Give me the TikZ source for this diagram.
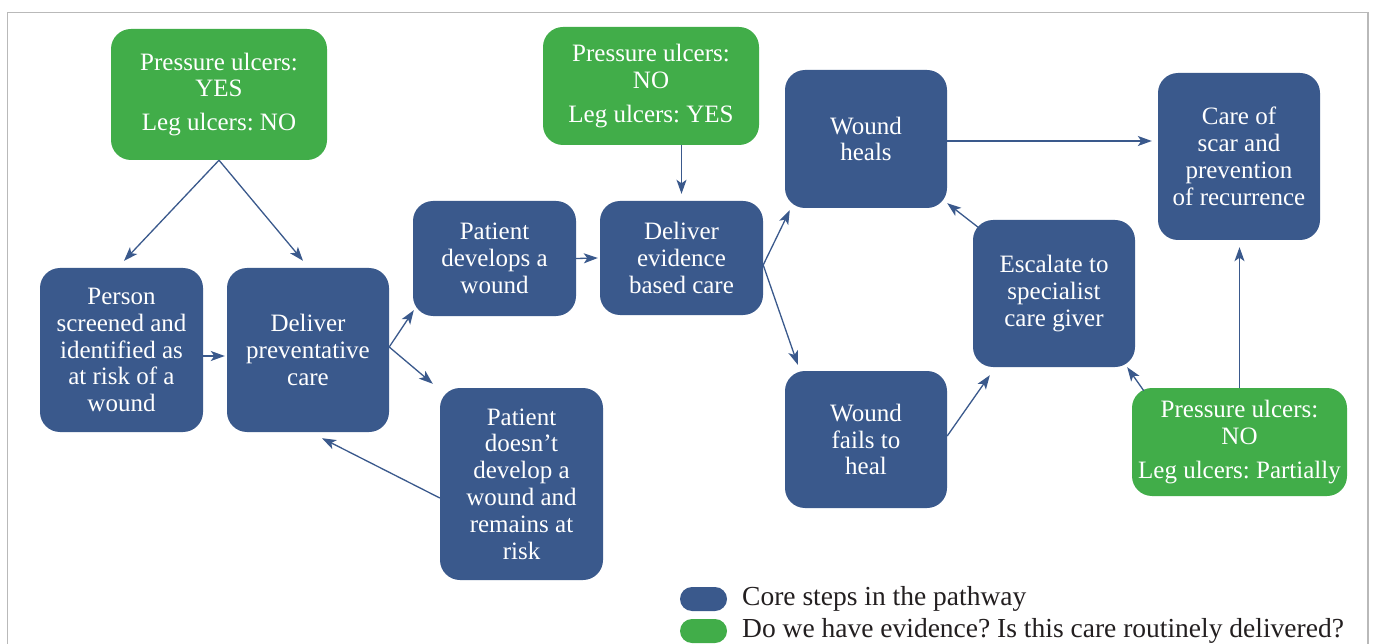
\documentclass[tikz,border=0pt]{standalone}
\usepackage{fontspec}
\setmainfont{Liberation Serif}
\usetikzlibrary{arrows.meta,calc}
\definecolor{cblue}{RGB}{58,89,140}
\definecolor{cgreen}{RGB}{65,173,73}
\definecolor{cframe}{RGB}{185,185,185}
\definecolor{ctext}{RGB}{35,31,32}
\frenchspacing
\begin{document}
\begin{tikzpicture}[x=1pt,y=-1pt,
  box/.style={rounded corners=20pt, fill=cblue, text=white, align=center,
    font=\fontsize{25}{26.8}\selectfont\frenchspacing, inner sep=0pt},
  gbox/.style={box, fill=cgreen},
  arr/.style={draw=cblue, line width=1.3pt, -{Stealth[length=14pt,width=10pt,inset=3.5pt]}},
  legpill/.style={rounded corners=12pt, minimum width=47pt, minimum height=24pt, inner sep=0pt},
  legtext/.style={anchor=west, text=ctext, font=\fontsize{27.5}{29}\selectfont\frenchspacing, inner sep=0pt}]
\useasboundingbox (0,0) rectangle (1373,644);
\fill[white] (0,0) rectangle (1373,644);
\draw[cframe, line width=1.5pt] (7.5,644) -- (7.5,12.5) -- (1368,12.5) -- (1368,644);

% green boxes
\node[gbox, minimum width=216pt, minimum height=131pt] (g1) at (219,94.5)
  {Pressure ulcers:\\YES\\[7pt]Leg ulcers: NO};
\node[gbox, minimum width=216pt, minimum height=118pt] (g2) at (651,86)
  {Pressure ulcers:\\NO\\[7pt]Leg ulcers: YES};
\node[gbox, minimum width=215pt, minimum height=108pt] (g3) at (1239.5,442)
  {Pressure ulcers:\\NO\\[7pt]Leg ulcers: Partially};

% blue boxes
\node[box, minimum width=163pt, minimum height=164pt] (person) at (121.5,350)
  {Person\\screened and\\identified as\\at risk of a\\wound};
\node[box, minimum width=162pt, minimum height=164pt] (prev) at (308,350)
  {Deliver\\preventative\\care};
\node[box, minimum width=163pt, minimum height=115pt] (develops) at (494.5,258.5)
  {Patient\\develops a\\wound};
\node[box, minimum width=163pt, minimum height=192pt] (doesnt) at (521.5,484)
  {Patient\\doesn’t\\develop a\\wound and\\remains at\\risk};
\node[box, minimum width=163pt, minimum height=114pt] (evidence) at (681.5,258)
  {Deliver\\evidence\\based care};
\node[box, minimum width=162pt, minimum height=138pt] (heals) at (866,139)
  {Wound\\heals};
\node[box, minimum width=162pt, minimum height=137pt] (fails) at (866,439.5)
  {Wound\\fails to\\heal};
\node[box, minimum width=162pt, minimum height=147pt] (escalate) at (1054,293.5)
  {Escalate to\\specialist\\care giver};
\node[box, minimum width=162pt, minimum height=167pt] (scar) at (1239,156.5)
  {Care of\\scar and\\prevention\\of recurrence};

% connectors
\draw[arr] (g1.south) -- ($(person.north)+(2.5,-7)$);
\draw[arr] (g1.south) -- ($(prev.north)+(-5,-7)$);
\draw[arr] ($(person.east)+(0,6)$) -- ($(prev.west)+(-2,6)$);
\draw[arr] ($(prev.east)+(0,-3)$) -- ($(develops.south west)+(1,-6)$);
\draw[arr] ($(prev.east)+(0,-3)$) -- ($(doesnt.north west)+(-7,-4)$);
\draw[arr] ($(doesnt.west)+(0,14)$) -- ($(prev.south)+(14,6)$);
\draw[arr] (develops.east) -- ($(evidence.west)+(-2,0)$);
\draw[arr] (evidence.north |- g2.south) -- ($(evidence.north)+(0,-7)$);
\draw[arr] ($(evidence.east)+(0,7)$) -- ($(heals.south west)+(5,2)$);
\draw[arr] ($(evidence.east)+(0,7)$) -- ($(fails.north west)+(13,-6)$);
\draw[arr] ($(heals.east)+(0,2)$) -- ($(scar.west |- heals.east)+(-6,2)$);
\draw[arr] ($(fails.east)+(0,-3.5)$) -- ($(escalate.south west)+(17,8)$);
\draw[arr] ($(escalate.north west)+(6,8)$) -- ($(heals.south east)+(0,-5)$);
\draw[arr] ($(g3.north west)+(12,3)$) -- ($(escalate.south east)+(-8,0)$);
\draw[arr] (g3.north) -- ($(scar.south)+(0.5,7)$);

% legend
\node[legpill, fill=cblue] (lblue) at (703.5,599) {};
\node[legpill, fill=cgreen] (lgreen) at (703.5,631) {};
\node[legtext] (tblue) at (742,599) {Core steps in the pathway};
\node[legtext] (tgreen) at (742,631) {Do we have evidence? Is this care routinely delivered?};
\end{tikzpicture}
\end{document}
